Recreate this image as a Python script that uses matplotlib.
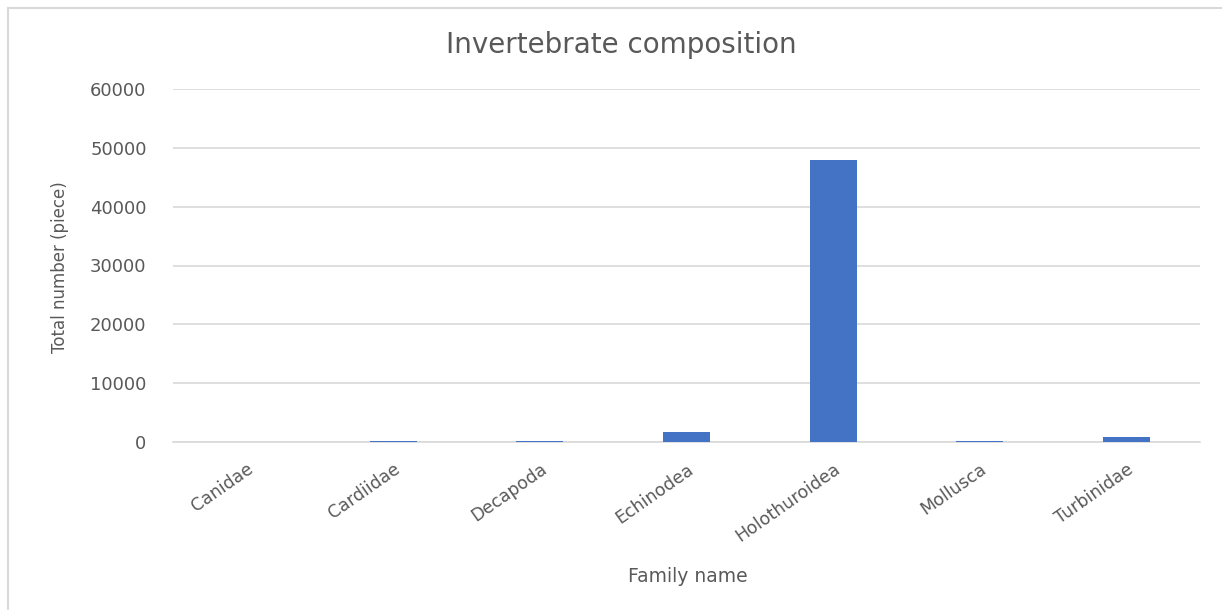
import matplotlib
matplotlib.use("Agg")
import matplotlib.pyplot as plt
from matplotlib.patches import Rectangle

categories = ["Canidae", "Cardiidae", "Decapoda", "Echinodea", "Holothuroidea", "Mollusca", "Turbinidae"]
values = [20, 250, 250, 1700, 48000, 250, 850]
yticks = [0, 10000, 20000, 30000, 40000, 50000, 60000]

plt.rcParams['font.family'] = ['DejaVu Sans']
W, H = 1222, 610
fig = plt.figure(figsize=(W / 100, H / 100), dpi=100)
fig.patches.append(Rectangle((8 / W, -0.01), 1.0, 1 - 8 / H + 0.01, transform=fig.transFigure,
                             fill=False, edgecolor='#d9d9d9', linewidth=1.5))
ax = fig.add_axes([173 / W, 1 - 442 / H, (1200 - 173) / W, (442 - 89) / H])
x = range(len(categories))
ax.bar(x, values, width=0.32, color='#4472c4', zorder=3)
ax.set_xlim(-0.5, len(categories) - 0.5)
ax.set_ylim(0, 60000)
ax.set_yticks(yticks)
ax.set_yticklabels([str(t) for t in yticks])
ax.set_xticks(list(x))
ax.set_xticklabels(categories, rotation=35, ha='right', rotation_mode='anchor')
ax.grid(axis='y', color='#d9d9d9', linewidth=1.2, zorder=0)
for s in ['top', 'right', 'left']:
    ax.spines[s].set_visible(False)
ax.spines['bottom'].set_color('#d9d9d9')
ax.spines['bottom'].set_linewidth(1.2)
ax.tick_params(axis='both', length=0, colors='#595959')
ax.tick_params(axis='y', pad=19, labelsize=13)
ax.tick_params(axis='x', pad=13, labelsize=12.5)
fig.text(621 / W, 1 - 45 / H, "Invertebrate composition", fontsize=20, color='#595959',
         ha='center', va='center')
fig.text(60 / W, 1 - 267 / H, "Total number (piece)", fontsize=12, color='#595959',
         ha='center', va='center', rotation=90)
fig.text(688 / W, 1 - 577 / H, "Family name", fontsize=13.5, color='#595959',
         ha='center', va='center')
fig.savefig("out.png", dpi=100)
